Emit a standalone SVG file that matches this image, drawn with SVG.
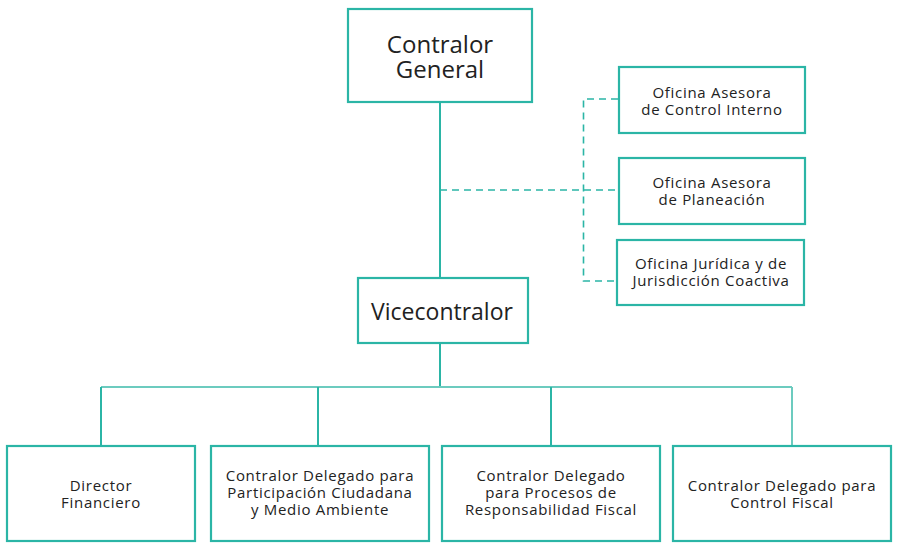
<svg xmlns="http://www.w3.org/2000/svg" width="897" height="555" viewBox="0 0 897 555">
<style>
.box{fill:#fff;stroke:#2bb5a6;stroke-width:2.2}
.ln{fill:none;stroke:#2bb5a6;stroke-width:2}
.bus{fill:none;stroke:#6ccbbf;stroke-width:2}
.dash{fill:none;stroke:#2bb5a6;stroke-width:1.6;stroke-dasharray:7,5}
text{font-family:"Open Sans","Noto Sans",sans-serif;fill:#222;text-anchor:middle}
.big{font-size:24px}
.sm{font-size:15px;letter-spacing:0.7px}
</style>
<rect width="897" height="555" fill="#fff"/>
<g id="connectors">
<path class="ln" d="M440,102V278"/>
<path class="dash" d="M440,190H618"/>
<path class="dash" d="M618,99H583.5V281H616"/>
<path class="ln" d="M440,343V387"/>
<path class="bus" d="M101,387H792"/>
<path class="ln" d="M101,387V446M318,387V446M551,387V446"/>
<path class="bus" d="M792,387V446"/>
</g>
<g id="contralor-general">
<rect class="box" x="348" y="9" width="184" height="93"/>
<text class="big" x="440" y="53">Contralor</text>
<text class="big" x="440" y="78">General</text>
</g>
<g id="oficina-control-interno">
<rect class="box" x="619" y="67" width="186" height="66"/>
<text class="sm" x="712" y="98">Oficina Asesora</text>
<text class="sm" x="712" y="115">de Control Interno</text>
</g>
<g id="oficina-planeacion">
<rect class="box" x="619" y="158" width="186" height="66"/>
<text class="sm" x="712" y="188">Oficina Asesora</text>
<text class="sm" x="712" y="205">de Planeación</text>
</g>
<g id="oficina-juridica">
<rect class="box" x="617" y="240" width="187" height="65"/>
<text class="sm" x="711" y="269">Oficina Jurídica y de</text>
<text class="sm" x="711" y="286">Jurisdicción Coactiva</text>
</g>
<g id="vicecontralor">
<rect class="box" x="358" y="278" width="170" height="65"/>
<text class="big" x="442" y="320" style="font-size:23px">Vicecontralor</text>
</g>
<g id="director-financiero">
<rect class="box" x="7" y="446" width="188" height="95"/>
<text class="sm" x="101" y="491">Director</text>
<text class="sm" x="101" y="508">Financiero</text>
</g>
<g id="cd-participacion">
<rect class="box" x="211" y="446" width="218" height="95"/>
<text class="sm" x="320" y="481">Contralor Delegado para</text>
<text class="sm" x="320" y="498">Participación Ciudadana</text>
<text class="sm" x="320" y="515">y Medio Ambiente</text>
</g>
<g id="cd-responsabilidad">
<rect class="box" x="442" y="446" width="218" height="95"/>
<text class="sm" x="551" y="481">Contralor Delegado</text>
<text class="sm" x="551" y="498">para Procesos de</text>
<text class="sm" x="551" y="515">Responsabilidad Fiscal</text>
</g>
<g id="cd-control-fiscal">
<rect class="box" x="673" y="446" width="218" height="95"/>
<text class="sm" x="782" y="491">Contralor Delegado para</text>
<text class="sm" x="782" y="508">Control Fiscal</text>
</g>
</svg>
